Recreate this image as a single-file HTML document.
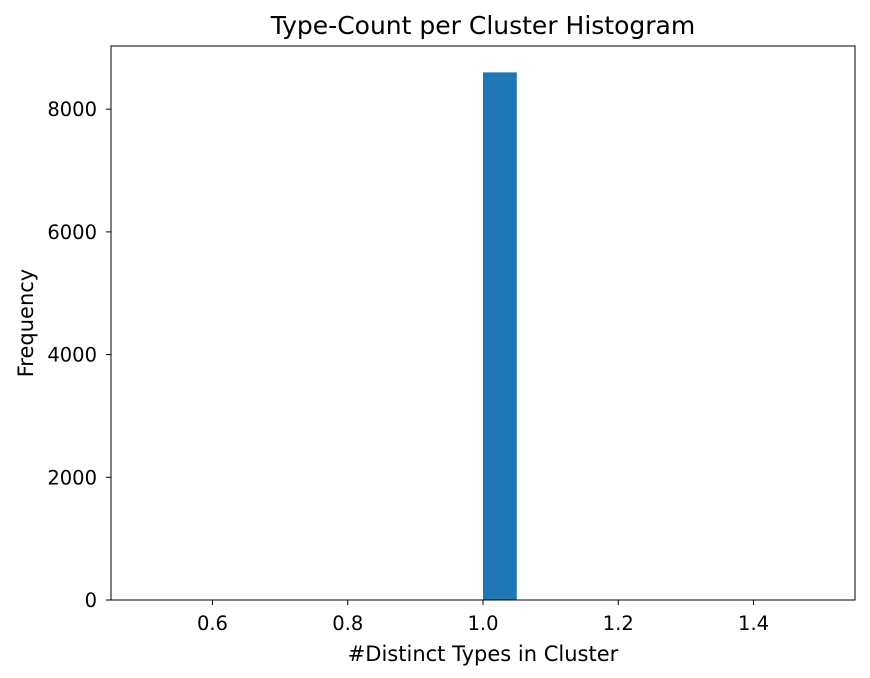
<!DOCTYPE html>
<html><head><meta charset="utf-8">
<style>
html,body{margin:0;padding:0;background:#fff;}
svg{display:block;font-family:"DejaVu Sans","Liberation Sans",sans-serif;}
</style></head>
<body>
<svg id="chart" width="870" height="678">
<text x="483" y="34" font-size="25" text-anchor="middle">Type-Count per Cluster Histogram</text>
<text x="483" y="661" font-size="21" text-anchor="middle">#Distinct Types in Cluster</text>
<text transform="translate(33,323) rotate(-90)" font-size="21" text-anchor="middle">Frequency</text>
</svg>
<script>
const binStarts = [0.5,0.55,0.6,0.65,0.7,0.75,0.8,0.85,0.9,0.95,1.0,1.05,1.1,1.15,1.2,1.25,1.3,1.35,1.4,1.45];
const binCounts = [0,0,0,0,0,0,0,0,0,0,8600,0,0,0,0,0,0,0,0,0];
const binWidth = 0.05;
const xTicks = [0.6,0.8,1.0,1.2,1.4];
const xTickLabels = ["0.6","0.8","1.0","1.2","1.4"];
const yTicks = [0,2000,4000,6000,8000];
const yTickLabels = ["0","2000","4000","6000","8000"];

const L=111,R=855,T=46,B=600;
const xMin=0.45,xMax=1.55;
const yMax=Math.max(...binCounts)*1.05;
const xs=v=>L+(v-xMin)/(xMax-xMin)*(R-L);
const ys=v=>B-v/yMax*(B-T);
const svg=document.getElementById('chart');
const NS='http://www.w3.org/2000/svg';
function mk(tag,attrs){const e=document.createElementNS(NS,tag);for(const k in attrs)e.setAttribute(k,attrs[k]);svg.appendChild(e);return e;}

binCounts.forEach((c,i)=>{
  if(c<=0)return;
  const r=mk('rect',{x:xs(binStarts[i]),y:ys(c),width:xs(binStarts[i]+binWidth)-xs(binStarts[i]),height:B-ys(c),fill:'#1f77b4'});
  
  
});

const frame=mk('rect',{x:L,y:T,width:R-L,height:B-T,fill:'none',stroke:'#000','stroke-width':1});



xTicks.forEach((v,i)=>{
  const x=xs(v);
  const t=mk('line',{x1:x,x2:x,y1:B,y2:B+5,stroke:'#000'});
  
  
  const l=mk('text',{x:x,y:B+30,'font-size':19.5,'text-anchor':'middle'});
  l.textContent=xTickLabels[i];
  
  
});
yTicks.forEach((v,i)=>{
  const y=ys(v);
  const t=mk('line',{x1:L-5,x2:L,y1:y,y2:y,stroke:'#000'});
  
  
  const l=mk('text',{x:L-14,y:y+7,'font-size':19.5,'text-anchor':'end'});
  l.textContent=yTickLabels[i];
  
  
});
</script>
</body></html>
